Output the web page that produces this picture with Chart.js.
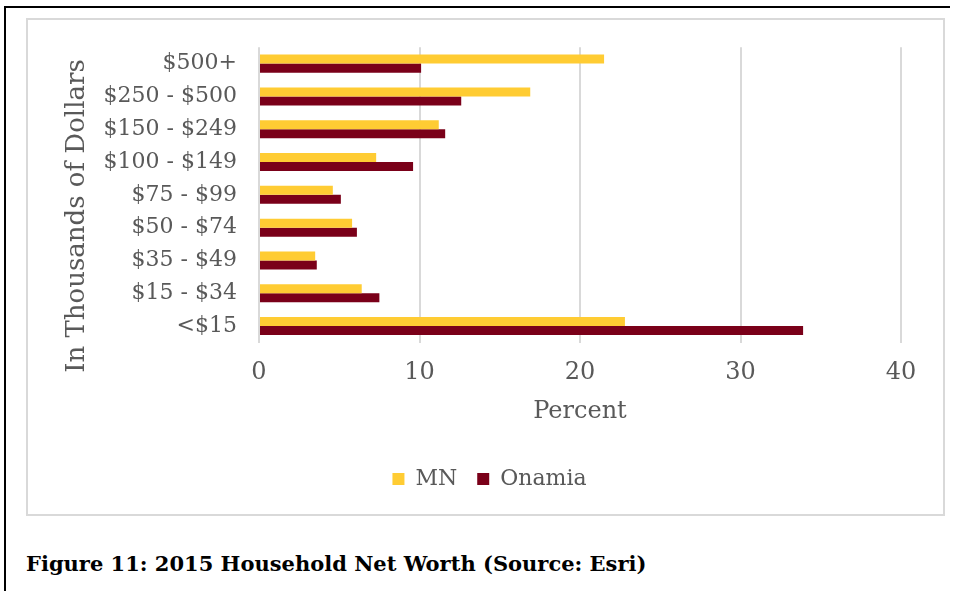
<!DOCTYPE html>
<html>
<head>
<meta charset="utf-8">
<script src="https://cdn.jsdelivr.net/npm/chart.js@4/dist/chart.umd.min.js"></script>
<style>
  html, body { margin: 0; padding: 0; background: #fff; }
  body { width: 953px; height: 591px; position: relative; overflow: hidden; }
  .frame {
    position: absolute; left: 4px; top: 6px; width: 944px; height: 600px;
    border-top: 2px solid #000; border-left: 2px solid #000;
  }
  .box {
    position: absolute; left: 26px; top: 18px; width: 919px; height: 498px;
    border: 2px solid #d9d9d9; box-sizing: border-box;
  }
  .box canvas { position: absolute; left: 0; top: 0; }
  .caption {
    position: absolute; left: 26px; top: 551px;
    font: bold 21px "DejaVu Serif", serif; color: #000; white-space: nowrap;
  }
</style>
</head>
<body>
<div class="frame"></div>
<div class="box"><canvas id="netWorthChart" width="915" height="494"></canvas></div>
<div class="caption">Figure 11: 2015 Household Net Worth (Source: Esri)</div>
<script>
const categories = ['$500+', '$250 - $500', '$150 - $249', '$100 - $149', '$75 - $99', '$50 - $74', '$35 - $49', '$15 - $34', '<$15'];
const mnValues = [21.5, 16.9, 11.2, 7.3, 4.6, 5.8, 3.5, 6.4, 22.8];
const onamiaValues = [10.1, 12.6, 11.6, 9.6, 5.1, 6.1, 3.6, 7.5, 33.9];
const xTicks = [0, 10, 20, 30, 40];
const xTitle = 'Percent';
const yTitle = 'In Thousands of Dollars';

const textGray = '#595959';
const serif = '"DejaVu Serif", serif';

// vertical axis title, centred on plot + tick labels like the spreadsheet does
const leftTitle = {
    id: 'leftTitle',
    afterDraw(chart) {
        const ctx = chart.ctx;
        ctx.save();
        ctx.translate(49, 196);
        ctx.rotate(-Math.PI / 2);
        ctx.font = '26px ' + serif;
        ctx.fillStyle = textGray;
        ctx.textAlign = 'center';
        ctx.textBaseline = 'middle';
        ctx.fillText(yTitle, 0, 0);
        ctx.restore();
    }
};

const ctx = document.getElementById('netWorthChart').getContext('2d');

new Chart(ctx, {
    type: 'bar',
    data: {
        labels: categories,
        datasets: [{
            label: 'MN',
            data: mnValues,
            backgroundColor: '#FFCC33'
        }, {
            label: 'Onamia',
            data: onamiaValues,
            backgroundColor: '#7A0019'
        }]
    },
    options: {
        indexAxis: 'y',
        responsive: false,
        animation: false,
        categoryPercentage: 0.55,
        barPercentage: 1.0,
        layout: {
            // left padding nudges the legend right; y axis width makes up for it
            padding: { top: 21, right: 42, left: 50, bottom: 14 }
        },
        scales: {
            x: {
                min: 0,
                max: 40,
                afterBuildTicks: scale => {
                    scale.ticks = xTicks.map(v => ({ value: v }));
                },
                afterFit: scale => { scale.height = 105.5; },
                grid: { color: '#d9d9d9', lineWidth: 2, drawTicks: false },
                border: { display: false },
                ticks: {
                    color: textGray,
                    padding: 15.5,
                    font: { family: serif, size: 24 }
                },
                title: {
                    display: true,
                    text: xTitle,
                    color: textGray,
                    font: { family: serif, size: 24 },
                    padding: { top: 0, bottom: 22 }
                }
            },
            y: {
                afterFit: scale => { scale.width = 181; },
                grid: { display: false },
                border: { display: false },
                ticks: {
                    color: textGray,
                    padding: 14,
                    font: { family: serif, size: 22 }
                }
            }
        },
        plugins: {
            legend: {
                position: 'bottom',
                labels: {
                    boxWidth: 12,
                    boxHeight: 12,
                    padding: 20,
                    color: textGray,
                    font: { family: serif, size: 22 }
                }
            },
            tooltip: { enabled: false }
        }
    },
    plugins: [leftTitle]
});
</script>
</body>
</html>
